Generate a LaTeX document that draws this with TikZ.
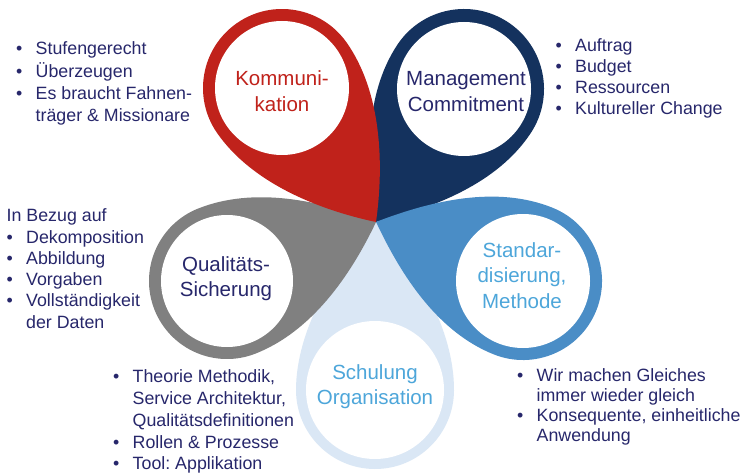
\documentclass[tikz,border=0pt]{standalone}
\usepackage{fontspec}
\setmainfont{Liberation Sans}
\frenchspacing

\definecolor{cred}{HTML}{C0221B}
\definecolor{cnavy}{HTML}{14325E}
\definecolor{cgray}{HTML}{808080}
\definecolor{cblue}{HTML}{4A8DC6}
\definecolor{clight}{HTML}{DAE7F5}
\definecolor{ctext}{HTML}{27276B}
\definecolor{ctitle}{HTML}{4DA6DA}

% petal: colour, centre x, centre y (downwards), rotation, tip distance, outer radius, inner radius, name
\newcommand\petal[8]{%
  \begin{scope}[shift={(#2,-#3)}, rotate=#4]
    \fill[#1] (#5,0) .. controls ({#5-44},41) and (60,#6) .. (0,#6)
      arc[start angle=90, end angle=270, radius=#6pt]
      .. controls (60,-#6) and ({#5-44},-41) .. (#5,0) -- cycle;
    \node[circle, fill=white, inner sep=0pt, minimum size=2*#7pt] (#8) at (0,0) {};
  \end{scope}}

\newcommand\bl{\makebox[19.5pt][l]{•}}
\newcommand\ind{\makebox[19.5pt]{}}

\begin{document}
\begin{tikzpicture}[x=1pt, y=1pt,
  title/.style={align=center, anchor=base, inner sep=0pt,
    font=\fontsize{20.5}{25.5}\selectfont},
  list/.style={align=left, anchor=base west, inner sep=0pt, text=ctext}]
\fill[white] (0,0) rectangle (746,-473);
\useasboundingbox (0,0) rectangle (746,-473);

% petals, back to front
\petal{clight}{375}{390}{89.7}{168}{79}{69}{cSch}
\petal{cnavy}{464}{89}{-123.5}{159.5}{80}{67}{cMgmt}
\petal{cgray}{227}{281}{21.6}{160.3}{78}{66}{cQual}
\petal{cblue}{523}{281}{158.1}{158.4}{79}{67}{cStd}
\petal{cred}{282}{88}{-54.95}{163.7}{79}{67}{cKom}

% titles (placed at the baseline of their last line)
\node[title, text=cred]   (tKom)  at (282,-111.5) {Kommuni-\\kation};
\node[title, text=ctext]  (tMgmt) at (466,-111.5) {Management\\Commitment};
\node[title, text=ctext]  (tQual) at (226,-296.5) {Qualitäts-\\Sicherung};
\node[title, text=ctitle] (tStd)  at (522,-308)   {Standar-\\disierung,\\Methode};
\node[title, text=ctitle] (tSch)  at (375,-404.5) {Schulung\\Organisation};

% lists (placed at the baseline of their last line)
\node[list, font=\fontsize{17.8}{22.2}\selectfont] (lKom) at (16,-121.6)
  {\bl Stufengerecht\\\bl Überzeugen\\\bl Es braucht Fahnen-\\\ind träger \& Missionare};
\node[list, font=\fontsize{17.8}{21}\selectfont] (lMgmt) at (555.5,-115)
  {\bl Auftrag\\\bl Budget\\\bl Ressourcen\\\bl Kultureller Change};
\node[list, font=\fontsize{17.8}{21.3}\selectfont] (lQual) at (6.5,-328.2)
  {In Bezug auf\\\bl Dekomposition\\\bl Abbildung\\\bl Vorgaben\\\bl Vollständigkeit\\\ind der Daten};
\node[list, font=\fontsize{17.8}{21.8}\selectfont] (lSch) at (113,-469.9)
  {\bl Theorie Methodik,\\\ind Service Architektur,\\\ind Qualitätsdefinitionen\\\bl Rollen \& Prozesse\\\bl Tool: Applikation};
\node[list, font=\fontsize{17.8}{20}\selectfont] (lStd) at (517,-441.7)
  {\bl Wir machen Gleiches\\\ind immer wieder gleich\\\bl Konsequente, einheitliche\\\ind Anwendung};
\end{tikzpicture}
\end{document}
